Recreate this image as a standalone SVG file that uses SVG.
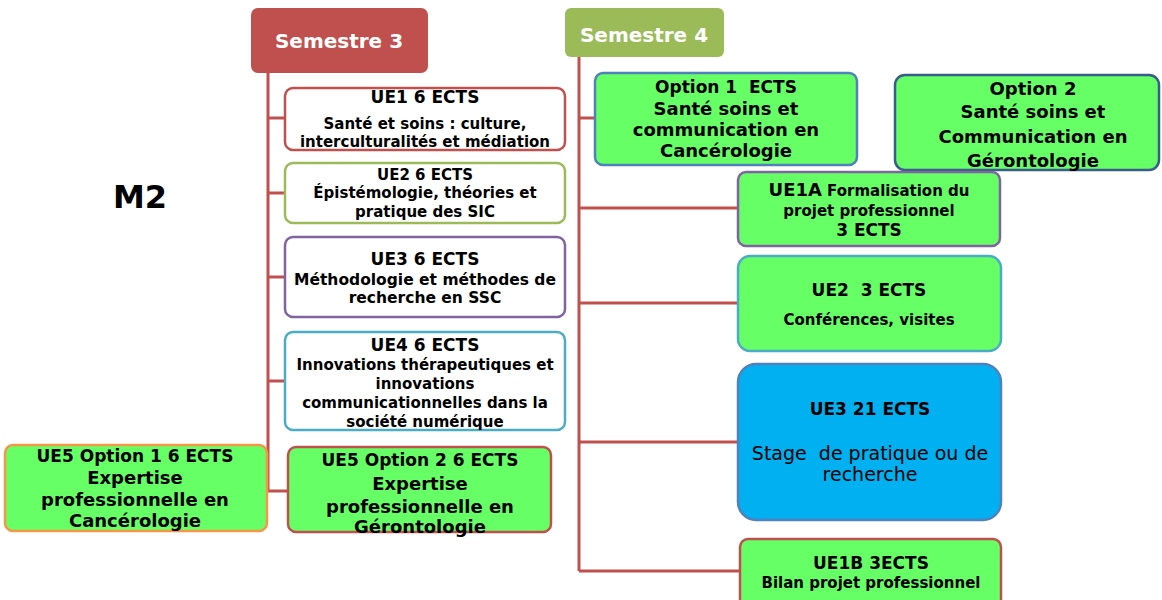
<svg xmlns="http://www.w3.org/2000/svg" width="1162" height="600" viewBox="0 0 1162 600">
<style>
text{font-family:"DejaVu Sans","Liberation Sans",sans-serif;font-weight:bold;fill:#000;text-anchor:middle}
.sem{fill:#fff;font-size:20px}
.t17{font-size:17px}
.t15{font-size:15px}
.t18{font-size:18px}
.box{stroke-width:2.5}
.green{fill:#66FF66}
.white{fill:#fff}
.conn{stroke:#C0504D;stroke-width:3;fill:none}
.pre{white-space:pre}
</style>
<rect width="1162" height="600" fill="#fff"/>
<g id="connectors">
<path class="conn" d="M268 73V491M268 118H285M268 193H285M268 277H285M268 381H285M268 491H288"/>
<path class="conn" d="M579 57V571M579 118H595M579 208H738M579 303H738M579 442H738M579 571H740"/>
</g>
<g id="m2"><text x="140" y="208" style="font-size:32px">M2</text></g>
<g id="sem3">
<rect x="251" y="8" width="177" height="65" rx="7" fill="#C0504D"/>
<text class="sem" x="339" y="48">Semestre 3</text>
</g>
<g id="sem4">
<rect x="565" y="8" width="159" height="49" rx="6" fill="#9BBB59"/>
<text class="sem" x="644" y="42">Semestre 4</text>
</g>
<g id="ue1">
<rect class="box white" x="285" y="88" width="280" height="62" rx="8" stroke="#C0504D"/>
<text class="t17" x="425" y="103">UE1 6 ECTS</text>
<text class="t15" x="425" y="129">Santé et soins : culture,</text>
<text class="t15" x="425" y="147">interculturalités et médiation</text>
</g>
<g id="ue2">
<rect class="box white" x="285" y="163" width="280" height="60" rx="8" stroke="#9BBB59"/>
<text class="t15" x="425" y="180">UE2 6 ECTS</text>
<text class="t15" x="425" y="198">Épistémologie, théories et</text>
<text class="t15" x="425" y="217">pratique des SIC</text>
</g>
<g id="ue3">
<rect class="box white" x="285" y="237" width="280" height="80" rx="8" stroke="#8064A2"/>
<text class="t17" x="425" y="265">UE3 6 ECTS</text>
<text x="425" y="285" style="font-size:15.5px">Méthodologie et méthodes de</text>
<text x="425" y="303" style="font-size:15.5px">recherche en SSC</text>
</g>
<g id="ue4">
<rect class="box white" x="285" y="332" width="280" height="98" rx="8" stroke="#4BACC6"/>
<text class="t17" x="425" y="351">UE4 6 ECTS</text>
<text class="t15" x="425" y="370">Innovations thérapeutiques et</text>
<text class="t15" x="425" y="389">innovations</text>
<text class="t15" x="425" y="408">communicationnelles dans la</text>
<text class="t15" x="425" y="427">société numérique</text>
</g>
<g id="ue5opt1">
<rect class="box green" x="5" y="445" width="262" height="86" rx="8" stroke="#F79646"/>
<text class="t17" x="135" y="462">UE5 Option 1 6 ECTS</text>
<text class="t18" x="135" y="484">Expertise</text>
<text class="t18" x="135" y="506">professionnelle en</text>
<text class="t18" x="135" y="527">Cancérologie</text>
</g>
<g id="ue5opt2">
<rect class="box green" x="288" y="447" width="263" height="85" rx="8" stroke="#C0504D"/>
<text class="t17" x="420" y="466">UE5 Option 2 6 ECTS</text>
<text class="t18" x="420" y="490">Expertise</text>
<text class="t18" x="420" y="513">professionnelle en</text>
<text class="t18" x="420" y="533">Gérontologie</text>
</g>
<g id="opt1">
<rect class="box green" x="595" y="73" width="262" height="92" rx="8" stroke="#4F81BD"/>
<text class="t17 pre" x="726" y="93">Option 1  ECTS</text>
<text class="t18" x="726" y="115">Santé soins et</text>
<text class="t18" x="726" y="136">communication en</text>
<text class="t18" x="726" y="157">Cancérologie</text>
</g>
<g id="opt2">
<rect class="box green" x="895" y="75" width="264" height="95" rx="10" stroke="#385D8A"/>
<text class="t18" x="1033" y="95">Option 2</text>
<text class="t18" x="1033" y="118">Santé soins et</text>
<text class="t18" x="1033" y="143">Communication en</text>
<text class="t18" x="1033" y="167">Gérontologie</text>
</g>
<g id="ue1a">
<rect class="box green" x="738" y="172" width="262" height="74" rx="8" stroke="#8064A2"/>
<text x="869" y="196" class="pre"><tspan style="font-size:18px">UE1A</tspan><tspan style="font-size:15px"> Formalisation du</tspan></text>
<text class="t15" x="869" y="216">projet professionnel</text>
<text class="t17" x="869" y="236">3 ECTS</text>
</g>
<g id="ue2r">
<rect class="box green" x="738" y="256" width="263" height="95" rx="12" stroke="#4BACC6"/>
<text class="t17 pre" x="869" y="296">UE2  3 ECTS</text>
<text class="t15" x="869" y="325">Conférences, visites</text>
</g>
<g id="ue3r">
<rect class="box" x="738" y="364" width="263" height="156" rx="18" fill="#00B0F0" stroke="#4F81BD"/>
<text class="t17" x="870" y="415">UE3 21 ECTS</text>
<text class="pre" x="870" y="460" style="font-size:19px;font-weight:normal">Stage  de pratique ou de</text>
<text x="870" y="481" style="font-size:19px;font-weight:normal">recherche</text>
</g>
<g id="ue1b">
<rect class="box green" x="740" y="539" width="261" height="80" rx="8" stroke="#C0504D"/>
<text class="t17" x="871" y="569">UE1B 3ECTS</text>
<text class="t15" x="871" y="588">Bilan projet professionnel</text>
</g>
</svg>
